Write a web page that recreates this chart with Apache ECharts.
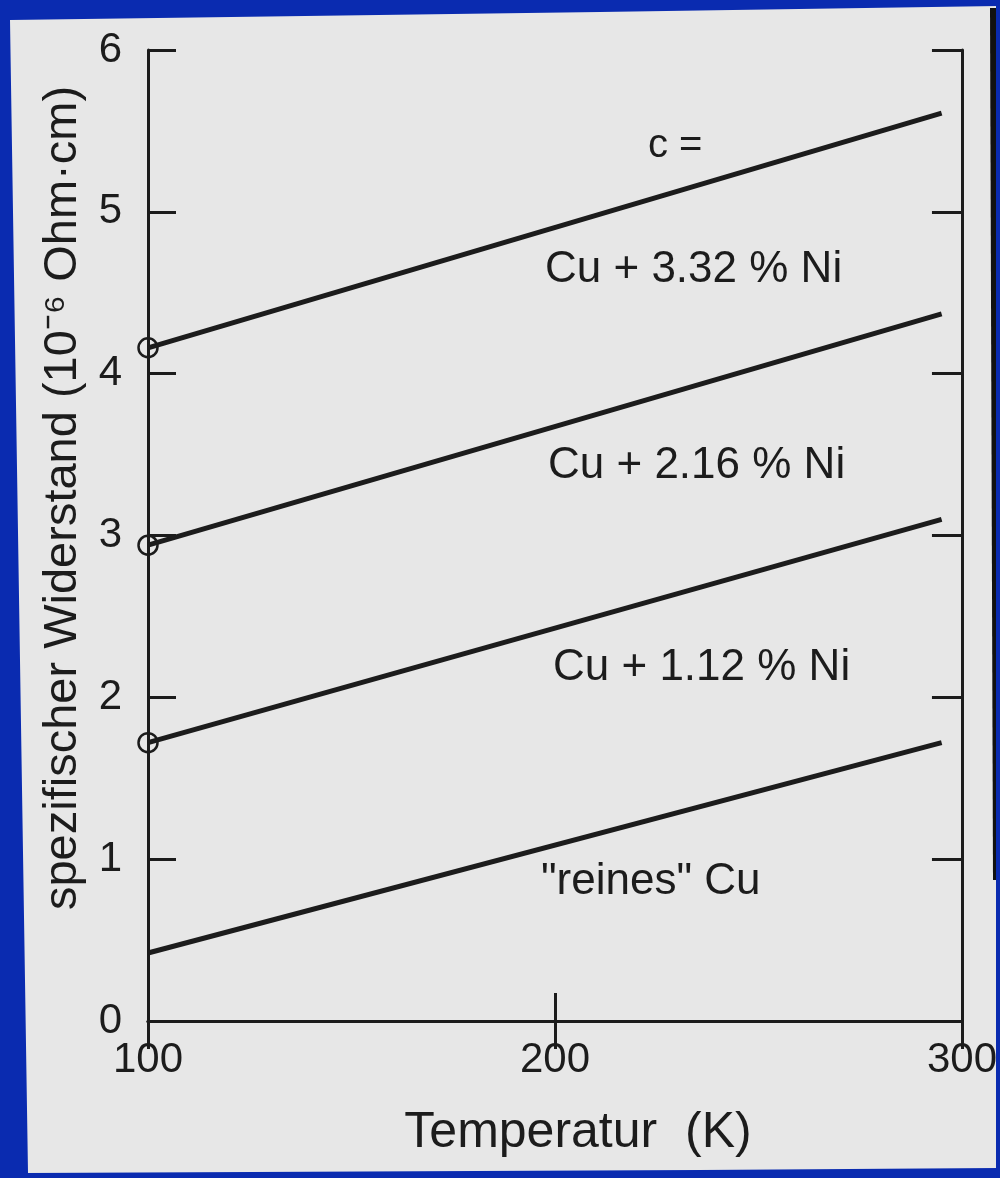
<!DOCTYPE html>
<html><head><meta charset="utf-8">
<script src="https://cdn.jsdelivr.net/npm/echarts@6/dist/echarts.min.js"></script>
<style>html,body{margin:0;padding:0;background:#0a2bb0;}#c{width:1000px;height:1178px;}</style>
</head><body><div id="c"></div>
<script>
// ---- data ----
const temperatures = [100, 295];          // K (start and end of each straight line)
const reinesCu = [0.42, 1.72];            // 10^-6 Ohm·cm
const cuNi112 = [1.72, 3.10];
const cuNi216 = [2.94, 4.37];
const cuNi332 = [4.16, 5.61];
const xRange = [100, 300];
const yRange = [0, 6];
const seriesNames = ['"reines" Cu', 'Cu + 1.12 % Ni', 'Cu + 2.16 % Ni', 'Cu + 3.32 % Ni'];
const xAxisName = 'Temperatur  (K)';
const yAxisName = 'spezifischer Widerstand (10\u207B\u2076 Ohm\u00B7cm)';
const noteText = 'c =';

const FONT = "'Liberation Sans', Arial, sans-serif";
const INK = '#1c1c1c';

function build(vals, marker) {
  return temperatures.map((t, i) => {
    const item = { value: [t, vals[i]] };
    if (marker && i === 0) {
      item.symbol = 'circle';
      item.symbolSize = 19;
      item.itemStyle = { color: 'rgba(0,0,0,0)', borderColor: INK, borderWidth: 2.5 };
    } else {
      item.symbol = 'none';
    }
    return item;
  });
}

const chart = echarts.init(document.getElementById('c'), null, { renderer: 'canvas' });

const axisCommon = {
  type: 'value',
  axisLine: { show: true, lineStyle: { color: INK, width: 3 } },
  axisTick: { show: true, inside: true, length: 28, lineStyle: { color: INK, width: 3 } },
  splitLine: { show: false }
};

function lineSeries(name, vals, marker) {
  return {
    name, type: 'line', data: build(vals, marker),
    showSymbol: true,
    lineStyle: { color: INK, width: 5 },
    itemStyle: { color: INK },
    emphasis: { disabled: true },
    silent: true, z: 3
  };
}

const labelStyle = (x, y, text, size) => ({
  type: 'text', x: x, y: y, z: 50,
  style: { text, fill: INK, font: `${size}px ${FONT}`, textAlign: 'left', textVerticalAlign: 'middle' }
});

chart.setOption({
  animation: false,
  backgroundColor: 'transparent',
  grid: { left: 148, top: 50, right: 37, bottom: 157, containLabel: false },
  xAxis: [
    Object.assign({}, axisCommon, {
      position: 'bottom', min: xRange[0], max: xRange[1], interval: 100,
      axisLabel: { color: INK, fontSize: 42, fontFamily: FONT, margin: 18 }
    }),
    Object.assign({}, axisCommon, {
      position: 'top', min: xRange[0], max: xRange[1], interval: 100,
      axisLabel: { show: false }
    })
  ],
  yAxis: [
    Object.assign({}, axisCommon, {
      position: 'left', min: yRange[0], max: yRange[1], interval: 1,
      axisLabel: { color: INK, fontSize: 42, fontFamily: FONT, margin: 26 }
    }),
    Object.assign({}, axisCommon, {
      position: 'right', min: yRange[0], max: yRange[1], interval: 1,
      axisTick: { show: true, inside: true, length: 30, lineStyle: { color: INK, width: 3 } },
      axisLabel: { show: false }
    })
  ],
  series: [
    lineSeries(seriesNames[0], reinesCu, false),
    lineSeries(seriesNames[1], cuNi112, true),
    lineSeries(seriesNames[2], cuNi216, true),
    lineSeries(seriesNames[3], cuNi332, true)
  ],
  graphic: [
    // paper sheet
    { type: 'polygon', z: -10, silent: true,
      shape: { points: [[10, 20], [600, 12], [998, 6], [998, 1168], [700, 1170], [28, 1173]] },
      style: { fill: '#e7e7e7' } },
    // dark right edge of the scan
    { type: 'polygon', z: -9, silent: true,
      shape: { points: [[990, 8], [997, 8], [999, 880], [993, 880]] },
      style: { fill: '#111' } },
    // blue strip cutting into the 300 label
    { type: 'rect', z: 100, silent: true,
      shape: { x: 996, y: 0, width: 4, height: 1178 }, style: { fill: '#0a2bb0' } },
    labelStyle(648, 146, noteText, 40),
    labelStyle(545, 270, seriesNames[3], 44),
    labelStyle(548, 466, seriesNames[2], 44),
    labelStyle(553, 668, seriesNames[1], 44),
    labelStyle(541, 882, seriesNames[0], 44),
    { type: 'text', z: 50, x: 63, y: 498, rotation: Math.PI / 2,
      style: { text: yAxisName, fill: INK, font: `47px ${FONT}`, textAlign: 'center', textVerticalAlign: 'middle' } },
    { type: 'text', z: 50, x: 578, y: 1133,
      style: { text: xAxisName, fill: INK, font: `50px ${FONT}`, textAlign: 'center', textVerticalAlign: 'middle' } }
  ]
});
</script></body></html>
